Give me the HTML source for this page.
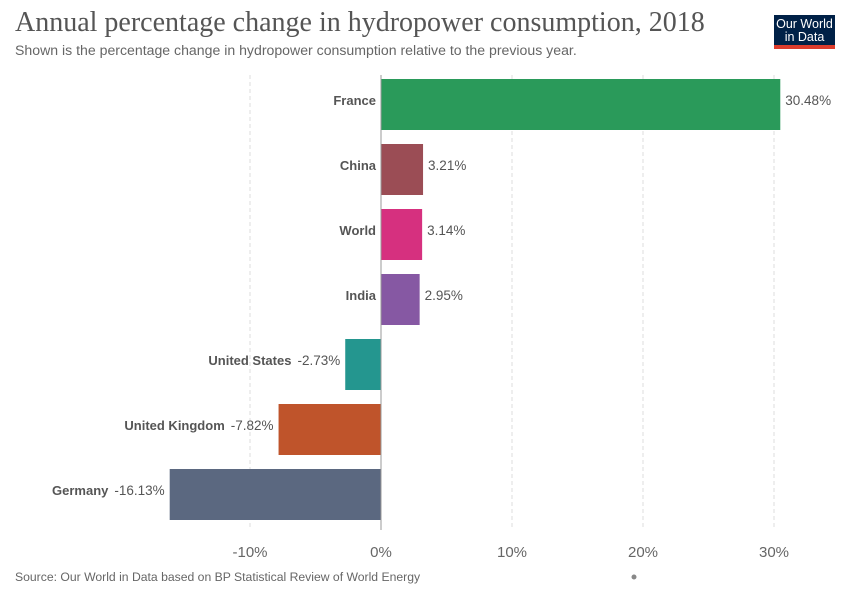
<!DOCTYPE html>
<html><head><meta charset="utf-8"><style>
body{margin:0;background:#fff;width:850px;height:600px;overflow:hidden;font-family:"Liberation Sans",sans-serif}
#title{position:absolute;left:15px;top:7px;font-family:"Liberation Serif",serif;font-size:28px;color:#555;margin:0;font-weight:normal}
#sub{position:absolute;left:15px;top:42px;font-size:14.1px;color:#666}
#logo{position:absolute;left:774px;top:15px;width:61px;height:34px;background:#002147;border-bottom:4px solid #dc3c2c;box-sizing:border-box;color:#fff;font-size:12.5px;line-height:13px;text-align:center;padding-top:3px}
#src{position:absolute;left:15px;top:570px;font-size:12.2px;color:#666}
</style></head><body>
<h1 id="title">Annual percentage change in hydropower consumption, 2018</h1>
<div id="sub">Shown is the percentage change in hydropower consumption relative to the previous year.</div>
<div id="logo">Our World<br>in Data</div>
<div id="src">Source: Our World in Data based on BP Statistical Review of World Energy</div>
<svg id="chart" width="850" height="600" style="position:absolute;left:0;top:0"></svg>
<script>
const categories=["France","China","World","India","United States","United Kingdom","Germany"];
const values=[30.48,3.21,3.14,2.95,-2.73,-7.82,-16.13];
const colors=["#2a9a5a","#9b4d55","#d6307f","#8658a3","#24968f","#bf542b","#5b6880"];
const ticks=[-10,0,10,20,30];
const tickLabels=["-10%","0%","10%","20%","30%"];
const NS="http://www.w3.org/2000/svg";
const svg=document.getElementById('chart');
const x=v=>381+v*13.1;
const y=i=>79+i*65;
const bh=51;
function mk(t,a){const e=document.createElementNS(NS,t);for(const k in a)e.setAttribute(k,a[k]);svg.appendChild(e);return e;}
ticks.forEach((t,i)=>{
  if(t!==0){const g=mk('line',{x1:x(t),x2:x(t),y1:75,y2:530,stroke:'#ddd','stroke-dasharray':'4,3'});
  
  }
  const l=mk('text',{x:x(t),y:557,'text-anchor':'middle','font-size':15,fill:'#666'});
  l.textContent=tickLabels[i];
  
  
});
categories.forEach((c,i)=>{
  const v=values[i];const x0=Math.min(x(0),x(v));const w=Math.abs(x(v)-x(0));
  const r=mk('rect',{x:x0,y:y(i),width:w,height:bh,fill:colors[i]});
  
  
  const cy=y(i)+bh/2+0.5;
  const vt=mk('text',{'font-size':13.5,fill:'#555'});
  vt.textContent=v.toFixed(2)+'%';
  
  
  const lt=mk('text',{'font-size':13,'font-weight':'bold',fill:'#555','text-anchor':'end',y:cy});
  lt.textContent=c;
  
  
  vt.setAttribute('y',cy);
  if(v>=0){vt.setAttribute('x',x(v)+5);lt.setAttribute('x',x(0)-5);}
  else{vt.setAttribute('x',x(v)-5);vt.setAttribute('text-anchor','end');
    const vw=vt.getComputedTextLength();lt.setAttribute('x',x(v)-5-vw-6);}
});
const ax=mk('line',{x1:x(0),x2:x(0),y1:75,y2:530,stroke:'#999'});


const d=mk('circle',{cx:634,cy:577,r:2.5,fill:'#888'});


</script>
</body></html>
